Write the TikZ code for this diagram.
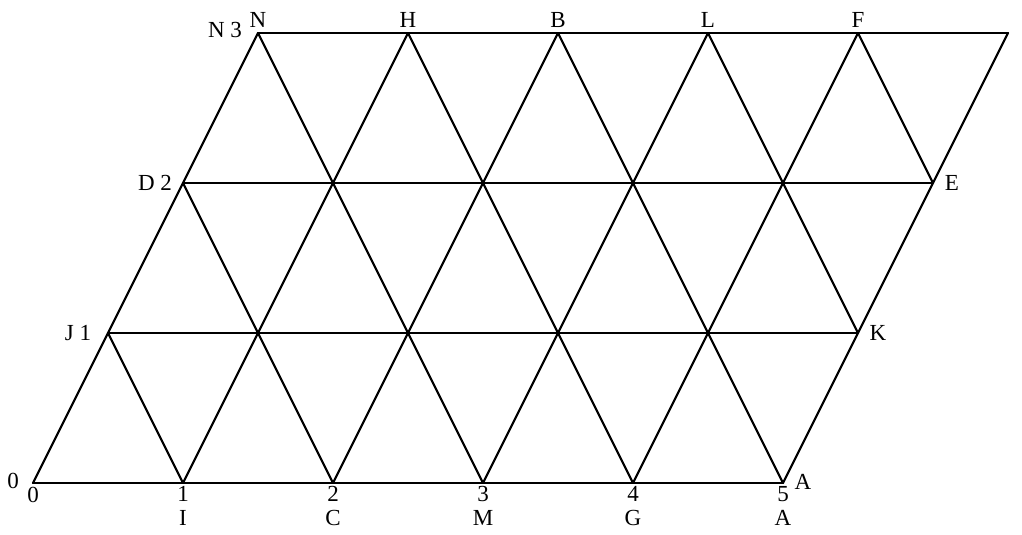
\documentclass[tikz,border=0pt]{standalone}
\usepackage{fontspec}
\setmainfont{Liberation Serif}
\begin{document}
\begin{tikzpicture}[x=1pt,y=-1pt,
  grid/.style={line width=2.2pt,line cap=round,line join=round},
  lbl/.style={inner sep=0pt,font=\fontsize{23}{25}\selectfont}]
\useasboundingbox (0,0) rectangle (1022,535);
\foreach \j in {0,...,3}{
  \foreach \i in {0,...,5}{
    \coordinate (p-\i-\j) at ({33+150*\i+75*\j},{483-150*\j});
  }
}
% horizontal lines
\foreach \j in {0,...,3}{\draw[grid] (p-0-\j) -- (p-5-\j);}
% rising lines
\foreach \i in {0,...,5}{\draw[grid] (p-\i-0) -- (p-\i-3);}
% falling lines
\foreach \a/\b in {p-0-1/p-1-0,p-0-2/p-2-0,p-0-3/p-3-0,p-1-3/p-4-0,p-2-3/p-5-0,p-3-3/p-5-1,p-4-3/p-5-2}{
  \draw[grid] (\a) -- (\b);
}
% labels
\node[lbl] (l0a) at (13,481) {0};
\node[lbl] (l0b) at (33,495) {0};
\node[lbl] (l1) at (183,494) {1};
\node[lbl] (lI) at (183,518) {I};
\node[lbl] (l2) at (333,494) {2};
\node[lbl] (lC) at (333,518) {C};
\node[lbl] (l3) at (483,494) {3};
\node[lbl] (lM) at (483,518) {M};
\node[lbl] (l4) at (633,494) {4};
\node[lbl] (lG) at (633,518) {G};
\node[lbl] (l5) at (783,494) {5};
\node[lbl] (lA) at (783,518) {A};
\node[lbl] (lA2) at (803,482) {A};
\node[lbl] (lJ) at (78,333) {J 1};
\node[lbl] (lD) at (155,183) {D 2};
\node[lbl] (lN3) at (225,30) {N 3};
\node[lbl] (lN) at (258,20) {N};
\node[lbl] (lH) at (408,20) {H};
\node[lbl] (lB) at (558,20) {B};
\node[lbl] (lL) at (708,20) {L};
\node[lbl] (lF) at (858,20) {F};
\node[lbl] (lE) at (952,183) {E};
\node[lbl] (lK) at (878,333) {K};
\end{tikzpicture}
\end{document}
